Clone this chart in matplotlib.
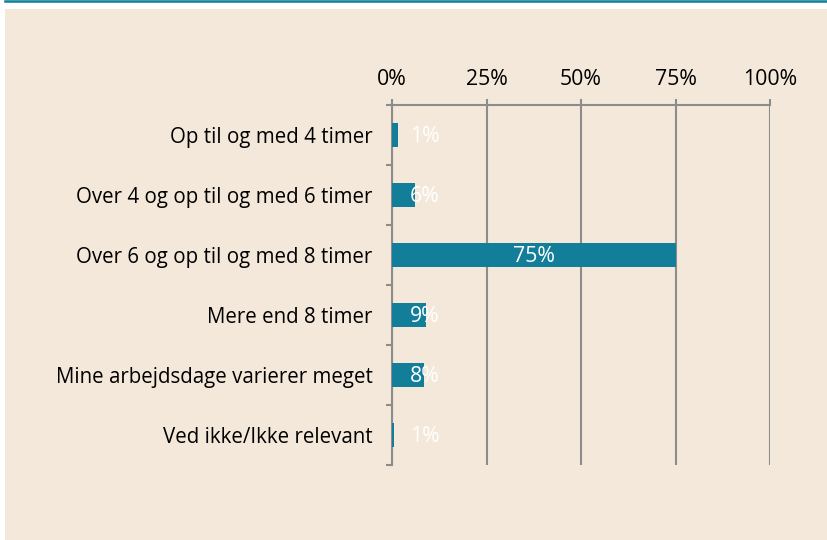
import matplotlib.pyplot as plt
from matplotlib.patches import Rectangle
from matplotlib.lines import Line2D

categories = [
    "Op til og med 4 timer",
    "Over 4 og op til og med 6 timer",
    "Over 6 og op til og med 8 timer",
    "Mere end 8 timer",
    "Mine arbejdsdage varierer meget",
    "Ved ikke/Ikke relevant",
]
values = [1.5, 6, 75, 9, 8.5, 0.6]
labels = ["1%", "6%", "75%", "9%", "8%", "1%"]
xticks = [0, 25, 50, 75, 100]
xticklabels = ["0%", "25%", "50%", "75%", "100%"]

BG = "#F4E8DA"
BAR = "#127E9A"
GRID = "#8C8C8C"
FS = 15.3

plt.rcParams["font.family"] = ["Open Sans", "DejaVu Sans"]

fig = plt.figure(figsize=(8.27, 5.40), dpi=100)
fig.patch.set_facecolor("white")
W, H = 827, 540
fig.patches.append(Rectangle((5 / W, 0), 1, 1 - 9 / H, transform=fig.transFigure,
                             facecolor=BG, edgecolor="none", zorder=-10))
fig.lines.append(Line2D([5 / W, 1], [1 - 1 / H, 1 - 1 / H], transform=fig.transFigure,
                        color="#0E7F98", lw=1.8, zorder=-10))

ax = fig.add_axes([392 / W, 1 - 465 / H, (770 - 392) / W, (465 - 105) / H])
ax.set_facecolor("none")

y = list(range(len(categories)))
ax.barh(y, values, height=0.4, color=BAR, zorder=3)
for yi, v, lab in zip(y, values, labels):
    if v > 20:
        ax.text(v / 2, yi + 0.03, lab, ha="center", va="center", color="white", fontsize=FS, zorder=4)
    else:
        ax.text(4.7, yi + 0.03, lab, ha="left", va="center", color="white", fontsize=FS, zorder=4)

ax.set_xlim(0, 100)
ax.set_ylim(len(categories) - 0.5, -0.5)
ax.xaxis.tick_top()
ax.set_xticks(xticks)
ax.set_xticklabels(xticklabels, fontsize=FS)
ax.tick_params(axis="x", length=4, width=1.5, color=GRID, pad=7)
ax.set_yticks(y)
ax.set_yticklabels(categories, fontsize=14.8)
ax.tick_params(axis="y", which="major", length=0, pad=14)
ax.set_yticks([i - 0.5 for i in range(len(categories) + 1)], minor=True)
ax.tick_params(axis="y", which="minor", length=4.5, width=1.5, color=GRID)
ax.grid(axis="x", color=GRID, lw=1.5, zorder=1)
for s in ["right", "bottom"]:
    ax.spines[s].set_visible(False)
for s in ["left", "top"]:
    ax.spines[s].set_color(GRID)
    ax.spines[s].set_linewidth(1.5)

fig.savefig("out.png", dpi=100)
